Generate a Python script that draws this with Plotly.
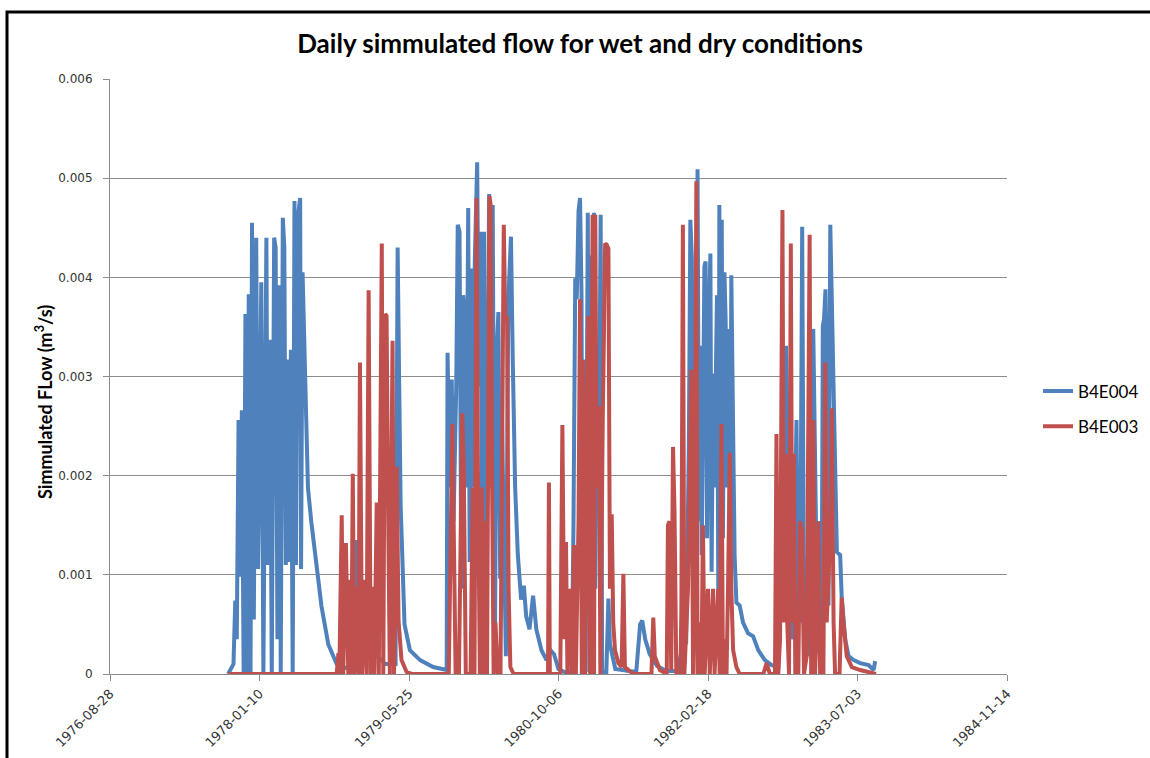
import pandas as pd
import plotly.graph_objects as go

# ---- data ----
START = "1976-08-28"          # day 0 of the simulation
END = "1984-11-14"

tick_dates = ["1976-08-28", "1978-01-10", "1979-05-25", "1980-10-06",
              "1982-02-18", "1983-07-03", "1984-11-14"]
flow_ticks = [0, 0.001, 0.002, 0.003, 0.004, 0.005, 0.006]
flow_tick_labels = ["0", "0.001", "0.002", "0.003", "0.004", "0.005", "0.006"]

# (day since START, simulated flow m3/s)
B4E004 = [
    (395, 0), (413, 0.0001), (419, 0.00074), (424, 0.00035), (430, 0.00256), (436, 0.00098),
    (441, 0.00266), (447, 0), (453, 0.00363), (458, 0), (464, 0.00383), (470, 0),
    (475, 0.00455), (481, 0.00055), (489, 0.0044), (495, 0.00106), (501, 0.00246), (506, 0.00395),
    (513, 0), (517, 0.00256), (523, 0.0044), (528, 0.0011), (535, 0.00337), (541, 0),
    (549, 0.0044), (554, 0.0043), (560, 0.00035), (566, 0.00392), (571, 0), (578, 0.0046),
    (583, 0.0043), (588, 0.0011), (594, 0.00317), (600, 0.00113), (605, 0.00327), (611, 0),
    (617, 0.00477), (622, 0.0011), (628, 0.0046), (636, 0.0048), (639, 0.00106), (644, 0.00405),
    (650, 0.00324), (662, 0.00188), (673, 0.00154), (690, 0.0011), (707, 0.00069), (730, 0.0003),
    (758, 0.0001), (790, 0.00006), (815, 0.0001), (820, 0.0002), (825, 0.00135), (832, 0.0003),
    (850, 0.00015), (878, 0.0002), (881, 0.00075), (888, 0.0002), (920, 0.0001), (955, 0.0001),
    (962, 0.0043), (967, 0.00297), (972, 0.0017), (985, 0.0005), (1003, 0.00024), (1037, 0.00014),
    (1081, 0.00007), (1126, 0.00004),
    (1129, 0.00324), (1136, 0.00188), (1143, 0.00297), (1149, 0.00154), (1158, 0.0029), (1163, 0.00453),
    (1169, 0.00446), (1175, 0.00086), (1181, 0.00382), (1186, 0.00368), (1192, 0.00188), (1198, 0.0047),
    (1203, 0.00113), (1210, 0.00409), (1215, 0.00188), (1220, 0.00416), (1228, 0.00516), (1234, 0.0029),
    (1240, 0.00446), (1245, 0.00065), (1251, 0.00446), (1256, 0.0001), (1268, 0.00484), (1273, 0.00188),
    (1280, 0.00473), (1287, 0.00002), (1293, 0.00324), (1299, 0.00365), (1305, 0.00096), (1311, 0.00256),
    (1319, 0.00086), (1324, 0.00018), (1332, 0.00375), (1341, 0.00441), (1347, 0.00317), (1355, 0.00188),
    (1364, 0.0012), (1375, 0.00075), (1384, 0.00089), (1392, 0.00058), (1403, 0.00045), (1415, 0.00079),
    (1426, 0.00045), (1443, 0.00024), (1460, 0.00014), (1470, 0.00025), (1485, 0.0002), (1500, 0.00005),
    (1520, 0.00002), (1544, 0.00002),
    (1550, 0.00147), (1556, 0.00399), (1561, 0.00378), (1567, 0.00467), (1572, 0.0048), (1577, 0.00382),
    (1581, 0.00002), (1588, 0.00317), (1592, 0.0012), (1598, 0.00465), (1603, 0.00002), (1608, 0.00422),
    (1612, 0.00002), (1619, 0.00465), (1623, 0.00086), (1629, 0.00283), (1636, 0.00246), (1641, 0.00463),
    (1646, 0.00002), (1660, 0.00002), (1667, 0.00076), (1672, 0.0003), (1690, 0.00005), (1760, 0.00002),
    (1773, 0.0005), (1780, 0.00054), (1790, 0.00035), (1805, 0.0002), (1830, 0.00008), (1860, 0.00003),
    (1900, 0.00003), (1922, 0.00045), (1927, 0.0003),
    (1936, 0.00232), (1941, 0.00458), (1946, 0.00419), (1950, 0.00154), (1955, 0.00341), (1961, 0.00052),
    (1965, 0.00509), (1970, 0.00154), (1974, 0.00331), (1979, 0.0012), (1983, 0.0031), (1988, 0.00411),
    (1992, 0.00416), (1997, 0.00137), (2003, 0.00351), (2008, 0.00424), (2012, 0.00103), (2017, 0.00303),
    (2021, 0.00188), (2026, 0.0031), (2030, 0.00382), (2035, 0.00052), (2038, 0.00473), (2043, 0.0012),
    (2046, 0.00458), (2050, 0.00137), (2055, 0.00405), (2059, 0.00358), (2064, 0.00188), (2068, 0.00348),
    (2074, 0.0012), (2078, 0.00402), (2084, 0.00222), (2089, 0.0012), (2095, 0.00072), (2106, 0.00069),
    (2117, 0.00052), (2134, 0.00041), (2151, 0.00038), (2168, 0.00024), (2190, 0.00014), (2213, 0.00009),
    (2235, 0.00007),
    (2243, 0.00188), (2249, 0.00086), (2256, 0.00154), (2261, 0.00331), (2265, 0.00256), (2270, 0.00103),
    (2276, 0.00052), (2285, 0.00035), (2291, 0.00154), (2296, 0.00256), (2301, 0.00059), (2308, 0.00052),
    (2315, 0.00451), (2320, 0.0012), (2326, 0.00069), (2336, 0.00059), (2341, 0.00018), (2347, 0.00086),
    (2352, 0.00348), (2357, 0.00222), (2361, 0.00154), (2367, 0.00069), (2375, 0.00154), (2380, 0.00045),
    (2384, 0.00351), (2388, 0.00358), (2393, 0.00388), (2397, 0.0029), (2403, 0.00069), (2409, 0.00453),
    (2414, 0.00382), (2419, 0.00324), (2425, 0.00222), (2431, 0.00123), (2442, 0.0012), (2447, 0.00079),
    (2459, 0.00035), (2470, 0.00018), (2487, 0.00014), (2509, 0.00011), (2537, 0.00009), (2554, 0.00004),
    (2559, 0.00013),
]

B4E003 = [
    (395, 0), (758, 0), (764, 0.00021), (767, 0), (775, 0.0016), (780, 0), (789, 0.00132), (797, 0),
    (803, 0.00095), (807, 0), (812, 0.00202), (817, 0), (825, 0.00088), (831, 0), (836, 0.00314),
    (843, 0), (849, 0.00095), (858, 0), (865, 0.00387), (872, 0), (878, 0.00088), (884, 0),
    (892, 0.00173), (899, 0), (909, 0.00434), (914, 0), (920, 0.00363), (925, 0.00361), (931, 0.00142),
    (936, 0), (945, 0.00336), (950, 0), (959, 0.00209), (965, 0.00054), (975, 0.00014), (992, 0.00002),
    (1010, 0),
    (1133, 0), (1145, 0.00252), (1150, 0.00154), (1156, 0), (1167, 0), (1178, 0.00263), (1183, 0.00212),
    (1190, 0), (1206, 0), (1213, 0.00188), (1219, 0), (1226, 0.0048), (1230, 0.00222), (1237, 0),
    (1243, 0.00188), (1249, 0), (1256, 0.00154), (1261, 0), (1269, 0.00482), (1273, 0.00473),
    (1278, 0.00188), (1283, 0), (1289, 0.00052), (1297, 0), (1306, 0), (1317, 0.00453), (1322, 0.00358),
    (1328, 0.00361), (1333, 0.00086), (1339, 0.00007), (1350, 0),
    (1465, 0), (1468, 0.00193), (1471, 0), (1506, 0), (1513, 0.00251), (1519, 0.00035), (1525, 0.00133),
    (1530, 0), (1539, 0.00086), (1545, 0), (1552, 0.0013), (1558, 0), (1567, 0.00154), (1572, 0.00378),
    (1578, 0), (1583, 0.00317), (1589, 0), (1600, 0.00361), (1606, 0), (1614, 0.00463), (1619, 0),
    (1623, 0.00463), (1628, 0.00188), (1636, 0.0027), (1640, 0), (1648, 0.00256), (1656, 0.00434),
    (1661, 0.00433), (1667, 0.00429), (1672, 0.00086), (1678, 0.00161), (1683, 0.00052), (1689, 0.00024),
    (1700, 0.00011), (1711, 0.00007), (1717, 0.00101), (1722, 0.00007), (1750, 0), (1811, 0),
    (1817, 0.00057), (1822, 0.00018), (1839, 0.00004), (1862, 0),
    (1866, 0.0015), (1871, 0.00154), (1877, 0.00004), (1883, 0.00229), (1888, 0.00164), (1894, 0),
    (1908, 0), (1911, 0.00069), (1916, 0.00453), (1921, 0), (1933, 0.00086), (1938, 0.00229),
    (1944, 0.00307), (1950, 0), (1955, 0.00086), (1961, 0.00497), (1965, 0), (1972, 0.00052), (1978, 0),
    (1983, 0.0015), (1989, 0), (2000, 0.00086), (2006, 0), (2017, 0.00086), (2022, 0), (2034, 0.00086),
    (2039, 0), (2045, 0.00252), (2050, 0), (2056, 0.00035), (2062, 0), (2067, 0.00086), (2073, 0.00223),
    (2078, 0.00086), (2084, 0.00024), (2095, 0.00007), (2106, 0), (2185, 0), (2196, 0.00011), (2207, 0),
    (2224, 0), (2229, 0.00242), (2235, 0), (2241, 0.00035), (2249, 0.00468), (2254, 0.00052),
    (2260, 0.00222), (2265, 0.00052), (2271, 0), (2277, 0.00434), (2282, 0.00052), (2287, 0.00222),
    (2292, 0), (2302, 0), (2308, 0.00154), (2314, 0.00144), (2321, 0), (2330, 0.00018), (2340, 0.00443),
    (2345, 0), (2352, 0.00256), (2358, 0), (2364, 0.00052), (2369, 0.00154), (2375, 0), (2386, 0),
    (2392, 0.00314), (2397, 0.00052), (2406, 0.0012), (2411, 0.00188), (2414, 0.00268), (2420, 0.00052),
    (2425, 0), (2440, 0), (2447, 0.00077), (2453, 0.00052), (2464, 0.00018), (2481, 0.00007),
    (2509, 0.00004), (2562, 0),
]

series = [("B4E004", B4E004, "#4F81BD"), ("B4E003", B4E003, "#C0504D")]


def unpack(points):
    days = [p[0] for p in points]
    flows = [p[1] for p in points]
    dates = pd.Timestamp(START) + pd.to_timedelta(days, unit="D")
    return dates, flows


fig = go.Figure()
for name, pts, color in series:
    x, y = unpack(pts)
    fig.add_trace(go.Scatter(x=x, y=y, mode="lines", name=name, legendgroup=name,
                             line=dict(color=color, width=4)))

# plot area in px: left 110, right 1007, top 79, bottom 674
L, R, T, B = 110, 1007, 79, 674
W, H = 1150, 758


def px_x(px):
    return (px - L) / (R - L)


def px_y(py):
    return (B - py) / (B - T)


axis_grey = "#8C8C8C"
tick_font = dict(family="DejaVu Sans", size=12, color="#333333")

fig.update_layout(
    width=W, height=H,
    margin=dict(l=L, r=W - R, t=T, b=H - B, autoexpand=False),
    paper_bgcolor="white", plot_bgcolor="white",
    title=dict(text="<b>Daily simmulated flow for wet and dry conditions</b>",
               x=580 / W, xanchor="center", xref="container",
               y=1 - 44 / H, yanchor="middle", yref="container",
               font=dict(family="Lato", size=26, color="#000000")),
    xaxis=dict(type="date", range=[START, END], tickvals=tick_dates, ticktext=tick_dates,
               tickangle=-45, ticks="outside", ticklen=6, tickcolor=axis_grey,
               showline=True, linecolor=axis_grey, linewidth=1, showgrid=False,
               zeroline=False, tickfont=dict(family="DejaVu Sans", size=13, color="#333333"),
               automargin=False),
    yaxis=dict(range=[0, 0.006], tickvals=flow_ticks, ticktext=flow_tick_labels,
               ticks="outside", ticklen=6, tickcolor=axis_grey,
               showline=True, linecolor=axis_grey, linewidth=1,
               showgrid=True, gridcolor=axis_grey, gridwidth=1, zeroline=False,
               tickfont=tick_font, ticklabelstandoff=8, automargin=False),
    legend=dict(x=px_x(1038), y=px_y(409), xanchor="left", yanchor="middle",
                font=dict(family="Lato", size=17, color="#000000"),
                tracegroupgap=10, itemwidth=30, bgcolor="rgba(0,0,0,0)"),
    annotations=[dict(text="<b>Simmulated FLow (m<sup>3</sup>/s)</b>", textangle=-90,
                      x=px_x(44), y=px_y(402), xref="paper", yref="paper",
                      xanchor="center", yanchor="middle", showarrow=False,
                      font=dict(family="Lato", size=18, color="#000000"))],
    shapes=[dict(type="path", xref="paper", yref="paper",
                 path=f"M {px_x(7)} {px_y(760)} L {px_x(7)} {px_y(12)} L {px_x(1152)} {px_y(12)}",
                 line=dict(color="#000000", width=3))],
)

fig.write_html("out.html")
